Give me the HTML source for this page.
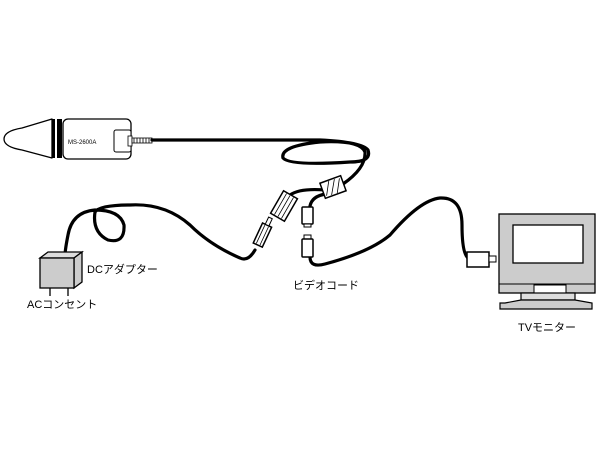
<!DOCTYPE html>
<html><head><meta charset="utf-8"><style>
html,body{margin:0;padding:0;background:#fff;}
svg{display:block}
text{font-family:"Liberation Sans","Noto Sans CJK JP",sans-serif;fill:#000}
</style></head><body>
<svg width="600" height="450" viewBox="0 0 600 450" xmlns="http://www.w3.org/2000/svg">
<rect width="600" height="450" fill="#fff"/>
<!-- camera -->
<path d="M52,119 L22,128 Q4,131 4,139 Q4,147 22,150 L52,158 Z" fill="#fff" stroke="#000" stroke-width="1.3" stroke-linejoin="round"/>
<rect x="52" y="119" width="10" height="39" fill="#000"/>
<rect x="55" y="119" width="2" height="39" fill="#fff"/>
<rect x="63" y="119" width="68" height="40" rx="5" fill="#fff" stroke="#000" stroke-width="1.3"/>
<text x="68" y="144" font-size="6">MS-2600A</text>
<rect x="114" y="130" width="17" height="22" rx="2" fill="#fff" stroke="#000" stroke-width="1"/>
<rect x="128" y="136" width="4" height="10" fill="#fff" stroke="#000" stroke-width="0.8"/>
<rect x="132" y="138" width="20" height="5" fill="#fff" stroke="#000" stroke-width="0.8"/>
<path d="M134,138 v5 M137,138 v5 M140,138 v5 M143,138 v5 M146,138 v5 M149,138 v5" stroke="#000" stroke-width="0.8"/>
<g fill="none" stroke="#000" stroke-width="3.2" stroke-linecap="round">
<path d="M152,140 L320,140 Q362,142 368,150 Q372,162 350,162 Q290,166 283,158 Q280,146 320,142 Q360,140 365,152 Q366,168 343,184"/>
<path d="M325,190 Q300,188 290,195"/>
<path d="M326,194 Q312,196 310,206"/>
<path d="M255,250 Q248,262 240,258 Q210,245 190,225 Q165,203 130,205 Q100,205 95,212 Q92,232 108,240 Q125,244 124,225 Q120,210 95,210 Q72,212 68,235 Q65,250 65,256"/>
<path d="M310,257 Q310,268 325,264 Q370,252 390,235 Q420,200 440,198 Q462,197 462,225 Q462,258 470,259"/>
</g>
<g transform="translate(333,187) rotate(-20)">
<rect x="-11" y="-8" width="22" height="16" fill="#fff" stroke="#000" stroke-width="1.5"/>
<path d="M-9,6 L-2,-7 M-4,7 L4,-7 M2,7 L9,-6" stroke="#000" stroke-width="0.8"/>
</g>
<g transform="translate(284,206) rotate(30)">
<rect x="-8" y="-13" width="16" height="26" fill="#fff" stroke="#000" stroke-width="1.5"/>
<path d="M-4,-12 v24 M0,-12 v24 M4,-12 v24" stroke="#000" stroke-width="0.8"/>
</g>
<g transform="translate(262,236) rotate(25)">
<rect x="-5" y="-12" width="10" height="22" fill="#fff" stroke="#000" stroke-width="1.5"/>
<path d="M-2,-11 v20 M2,-11 v20" stroke="#000" stroke-width="0.8"/>
<rect x="-2" y="-20" width="4" height="8" fill="#fff" stroke="#000" stroke-width="1"/>
</g>
<rect x="302" y="207" width="11" height="17" rx="1" fill="#fff" stroke="#000" stroke-width="1.5"/>
<rect x="304" y="224" width="7" height="3" fill="#fff" stroke="#000" stroke-width="1"/>
<rect x="304" y="235" width="7" height="4" fill="#fff" stroke="#000" stroke-width="1"/>
<rect x="302" y="239" width="11" height="18" rx="1" fill="#fff" stroke="#000" stroke-width="1.5"/>
<rect x="467" y="252" width="22" height="15" fill="#fff" stroke="#000" stroke-width="1.5"/>
<rect x="489" y="256" width="7" height="6" fill="#fff" stroke="#000" stroke-width="1"/>
<path d="M40,258 L48,252 L82,252 L74,258 Z" fill="#ddd" stroke="#000" stroke-width="1.3"/>
<path d="M74,258 L82,252 L82,282 L74,288 Z" fill="#ccc" stroke="#000" stroke-width="1.3"/>
<rect x="40" y="258" width="34" height="30" fill="#ccc" stroke="#000" stroke-width="1.3"/>
<path d="M50,288 v8 M68,288 v8" stroke="#000" stroke-width="1.3"/>
<rect x="499" y="214" width="96" height="79" fill="#ccc" stroke="#000" stroke-width="1.3"/>
<rect x="513" y="225" width="70" height="38" fill="#fff" stroke="#000" stroke-width="1.3"/>
<path d="M499,284 H595" stroke="#000" stroke-width="1"/>
<rect x="534" y="285" width="32" height="8" fill="#fff" stroke="#000" stroke-width="1"/>
<rect x="521" y="293" width="54" height="7" fill="#ddd" stroke="#000" stroke-width="1.2"/>
<path d="M505,303 L521,300 H575 L592,303 V309 H500 V303 Z" fill="#ccc" stroke="#000" stroke-width="1.2"/>
<text x="87" y="273" font-size="11">DCアダプター</text>
<text x="27" y="308" font-size="11">ACコンセント</text>
<text x="293" y="289" font-size="11">ビデオコード</text>
<text x="518" y="331" font-size="11">TVモニター</text>
</svg>
</body></html>
